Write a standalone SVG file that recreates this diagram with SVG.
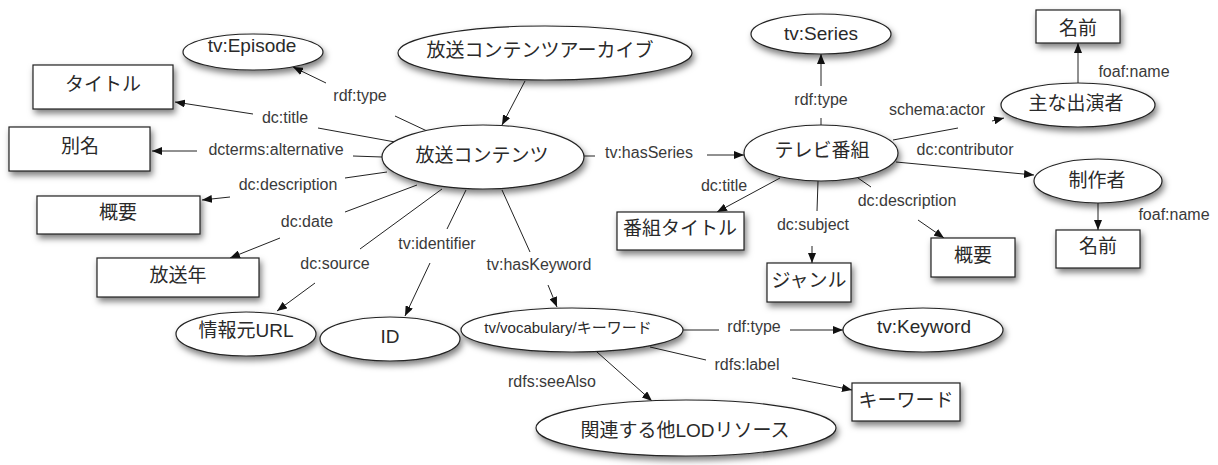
<svg xmlns="http://www.w3.org/2000/svg" width="1218" height="465" viewBox="0 0 1218 465">
<defs>
<filter id="sh" x="-20%" y="-30%" width="150%" height="180%">
<feDropShadow dx="2" dy="4" stdDeviation="3" flood-color="#000" flood-opacity="0.5"/>
</filter>
<marker id="ar" viewBox="0 0 10 8" refX="10" refY="4" markerWidth="10" markerHeight="8" markerUnits="userSpaceOnUse" orient="auto">
<path d="M0,0 L10,4 L0,8 z" fill="#111"/>
</marker>
</defs>
<style>
.n ellipse,.n rect{fill:#fff;stroke:#222;stroke-width:1.2;filter:url(#sh)}
.t{font-family:"Liberation Sans","Noto Sans CJK JP",sans-serif;font-size:19px;fill:#2a2a2a;text-anchor:middle}
.s{font-size:15px}
.l{font-family:"Liberation Sans","Noto Sans CJK JP",sans-serif;font-size:16px;fill:#3a3a3a;text-anchor:middle}
#edges line{stroke:#222;stroke-width:1;fill:none}
#edges line.a{marker-end:url(#ar)}
</style>
<rect width="1218" height="465" fill="#fff"/>
<g id="edges">
<line x1="427" y1="131" x2="395" y2="116"/><line class="a" x1="326" y1="83" x2="293" y2="67"/>
<line class="a" x1="525" y1="81" x2="502" y2="125"/>
<line x1="395" y1="142" x2="318" y2="128"/><line class="a" x1="253" y1="114" x2="175" y2="102"/>
<line x1="382" y1="157" x2="353" y2="156"/><line class="a" x1="197" y1="151" x2="152" y2="151"/>
<line x1="387" y1="172" x2="345" y2="178"/><line class="a" x1="230" y1="197" x2="202" y2="200"/>
<line x1="417" y1="185" x2="345" y2="212"/><line class="a" x1="280" y1="238" x2="230" y2="258"/>
<line x1="442" y1="189" x2="360" y2="249"/><line class="a" x1="315" y1="283" x2="277" y2="311"/>
<line x1="466" y1="190" x2="447" y2="229"/><line class="a" x1="430" y1="263" x2="405" y2="316"/>
<line x1="502" y1="190" x2="530" y2="252"/><line class="a" x1="548" y1="285" x2="557" y2="307"/>
<line x1="584" y1="156" x2="595" y2="156"/><line class="a" x1="707" y1="155" x2="744" y2="155"/>
<line x1="821" y1="125" x2="821" y2="118"/><line class="a" x1="821" y1="86" x2="821" y2="54"/>
<line x1="893" y1="140" x2="958" y2="128"/><line class="a" x1="992" y1="121" x2="1004" y2="118"/>
<line class="a" x1="896" y1="162" x2="1034" y2="175"/>
<line class="a" x1="1078" y1="83" x2="1078" y2="43"/>
<line class="a" x1="1098" y1="203" x2="1098" y2="230"/>
<line class="a" x1="780" y1="178" x2="717" y2="212"/>
<line x1="818" y1="181" x2="817" y2="211"/><line class="a" x1="812" y1="246" x2="812" y2="263"/>
<line x1="858" y1="178" x2="871" y2="187"/><line class="a" x1="918" y1="220" x2="944" y2="238"/>
<line x1="683" y1="330" x2="719" y2="330"/><line class="a" x1="790" y1="330" x2="843" y2="330"/>
<line x1="650" y1="347" x2="706" y2="360"/><line class="a" x1="792" y1="378" x2="852" y2="390"/>
<line class="a" x1="597" y1="352" x2="652" y2="401"/>
</g>
<g id="labels">
<text class="l" x="360" y="101">rdf:type</text>
<text class="l" x="285" y="123">dc:title</text>
<text class="l" x="276" y="155">dcterms:alternative</text>
<text class="l" x="288" y="190">dc:description</text>
<text class="l" x="307" y="227">dc:date</text>
<text class="l" x="335" y="269">dc:source</text>
<text class="l" x="437" y="249">tv:identifier</text>
<text class="l" x="539" y="270">tv:hasKeyword</text>
<text class="l" x="649" y="158">tv:hasSeries</text>
<text class="l" x="821" y="105">rdf:type</text>
<text class="l" x="937" y="115">schema:actor</text>
<text class="l" x="965" y="155">dc:contributor</text>
<text class="l" x="1134" y="77">foaf:name</text>
<text class="l" x="1174" y="220">foaf:name</text>
<text class="l" x="724" y="191">dc:title</text>
<text class="l" x="813" y="230">dc:subject</text>
<text class="l" x="907" y="206">dc:description</text>
<text class="l" x="754" y="332">rdf:type</text>
<text class="l" x="747" y="370">rdfs:label</text>
<text class="l" x="552" y="387">rdfs:seeAlso</text>
</g>
<g id="n-episode" class="n"><ellipse cx="253" cy="52" rx="70" ry="18"/><text class="t" x="252" y="52">tv:Episode</text></g>
<g id="n-archive" class="n"><ellipse cx="545" cy="53" rx="147" ry="27"/><text class="t" x="540" y="57">放送コンテンツアーカイブ</text></g>
<g id="n-content" class="n"><ellipse cx="483" cy="157" rx="101" ry="32"/><text class="t" x="482" y="162">放送コンテンツ</text></g>
<g id="n-title" class="n"><rect x="33" y="65" width="140" height="44"/><text class="t" x="103" y="91">タイトル</text></g>
<g id="n-alt" class="n"><rect x="9" y="127" width="141" height="44"/><text class="t" x="80" y="153">別名</text></g>
<g id="n-descL" class="n"><rect x="37" y="196" width="163" height="38"/><text class="t" x="118" y="219">概要</text></g>
<g id="n-year" class="n"><rect x="97" y="258" width="162" height="39"/><text class="t" x="178" y="282">放送年</text></g>
<g id="n-url" class="n"><ellipse cx="246" cy="334" rx="70" ry="22"/><text class="t" x="246" y="337">情報元URL</text></g>
<g id="n-id" class="n"><ellipse cx="390" cy="339" rx="70" ry="22"/><text class="t" x="390" y="343">ID</text></g>
<g id="n-vocab" class="n"><ellipse cx="572" cy="330" rx="111" ry="22"/><text class="t s" x="568" y="333">tv/vocabulary/キーワード</text></g>
<g id="n-keyword" class="n"><ellipse cx="923" cy="330" rx="80" ry="22"/><text class="t" x="924" y="333">tv:Keyword</text></g>
<g id="n-kwrect" class="n"><rect x="852" y="383" width="108" height="38"/><text class="t" x="906" y="407">キーワード</text></g>
<g id="n-lod" class="n"><ellipse cx="686" cy="428" rx="150" ry="28"/><text class="t" x="685" y="437">関連する他LODリソース</text></g>
<g id="n-tv" class="n"><ellipse cx="821" cy="153" rx="77" ry="28"/><text class="t" x="822" y="157">テレビ番組</text></g>
<g id="n-series" class="n"><ellipse cx="821" cy="34" rx="70" ry="20"/><text class="t" x="821" y="40">tv:Series</text></g>
<g id="n-ptitle" class="n"><rect x="617" y="212" width="127" height="38"/><text class="t" x="680" y="235">番組タイトル</text></g>
<g id="n-genre" class="n"><rect x="767" y="263" width="84" height="39"/><text class="t" x="809" y="287">ジャンル</text></g>
<g id="n-descR" class="n"><rect x="931" y="238" width="84" height="39"/><text class="t" x="973" y="262">概要</text></g>
<g id="n-actor" class="n"><ellipse cx="1078" cy="105" rx="77" ry="22"/><text class="t" x="1076" y="110">主な出演者</text></g>
<g id="n-name1" class="n"><rect x="1036" y="10" width="84" height="33"/><text class="t" x="1078" y="35">名前</text></g>
<g id="n-maker" class="n"><ellipse cx="1098" cy="181" rx="64" ry="22"/><text class="t" x="1097" y="187">制作者</text></g>
<g id="n-name2" class="n"><rect x="1056" y="230" width="84" height="38"/><text class="t" x="1098" y="253">名前</text></g>
</svg>
